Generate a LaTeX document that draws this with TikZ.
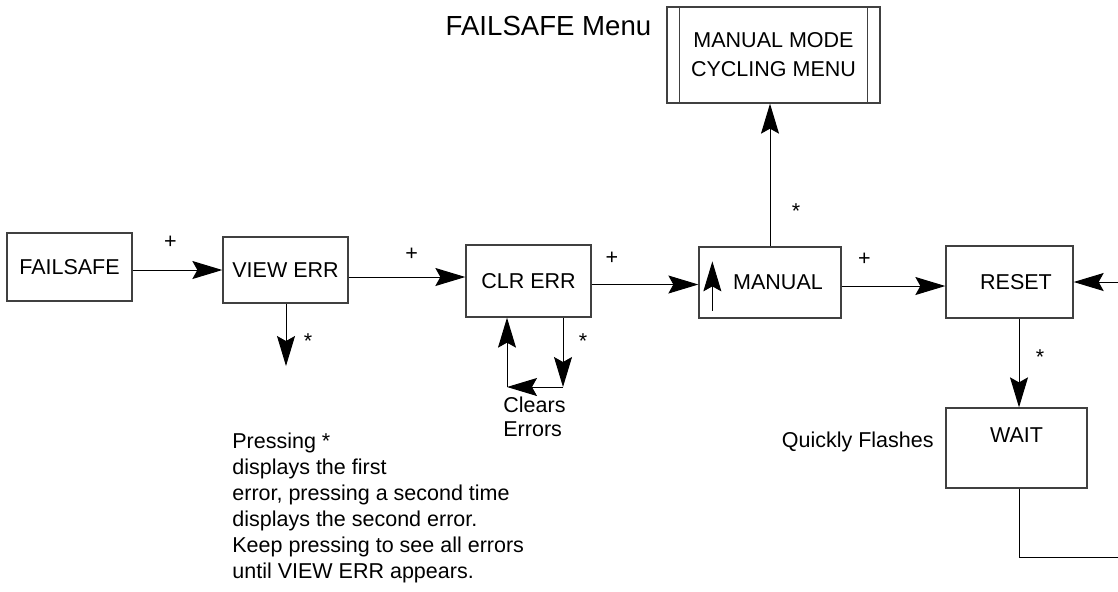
\documentclass[tikz,border=0pt]{standalone}
\usepackage{fontspec}
\setmainfont{Liberation Sans}
\usetikzlibrary{arrows.meta}

\begin{document}
\begin{tikzpicture}[x=0.5pt, y=-0.5pt,
  every node/.style={font=\fontsize{10.75}{13}\selectfont},
  menubox/.style={draw=black!75, line width=0.65pt, inner sep=0pt},
  flow/.style={line width=0.5pt, -{Stealth[length=15pt, width=9pt, inset=2.5pt]}},
  sym/.style={inner sep=0pt},
  note/.style={inner sep=0pt, align=left}]
  \useasboundingbox (0,0) rectangle (1118,591);

  % Menu boxes
  \node[menubox, minimum width=62.5pt, minimum height=34pt] (failsafe) at (69.5,267) {FAILSAFE};
  \node[menubox, minimum width=62.5pt, minimum height=33pt] (viewerr) at (285.5,270) {VIEW ERR};
  \node[menubox, minimum width=62.5pt, minimum height=36pt] (clrerr) at (528.5,281) {CLR ERR};
  \node[menubox, minimum width=71pt, minimum height=35.5pt] (manual) at (770,282.5) {\hspace{8pt}MANUAL};
  \node[menubox, minimum width=63.5pt, minimum height=36pt] (reset) at (1009.5,282) {\hspace{6.5pt}RESET};
  \node[menubox, minimum width=70.5pt, minimum height=40pt,
    label={[anchor=north, yshift=-6.4pt]north:WAIT}] (wait) at (1016.5,448) {};
  \node[menubox, minimum width=106.5pt, minimum height=48pt, align=center] (cycling) at (773.5,55)
    {MANUAL MODE\\[1.5pt]CYCLING MENU};
  \draw[draw=black!75, line width=0.65pt]
    ([xshift=6.5pt]cycling.north west) -- ([xshift=6.5pt]cycling.south west)
    ([xshift=-6.5pt]cycling.north east) -- ([xshift=-6.5pt]cycling.south east);

  % Texts
  \node[font=\fontsize{13.8}{16}\selectfont] (menutitle) at (548.5,26) {FAILSAFE Menu};
  \node[inner sep=0pt, anchor=base east] (flashes) at (934,447) {Quickly Flashes};
  \node[note, anchor=north west, font=\fontsize{10.75}{12}\selectfont] (clears) at (503,397) {Clears\\Errors};
  \node[note, anchor=north west] (pressnote) at (232,433)
    {Pressing *\\displays the first\\error, pressing a second time\\displays the second error.\\Keep pressing to see all errors\\until VIEW ERR appears.};

  % Plus key
  \draw[flow] (viewerr.west -| failsafe.east) -- (viewerr.west)
    node[sym, pos=.42, yshift=14pt] {+};
  \draw[flow] ([yshift=2pt]clrerr.west -| viewerr.east) -- ([yshift=2pt]clrerr.west)
    node[sym, pos=.54, yshift=11.5pt] {+};
  \draw[flow] ([yshift=-1pt]manual.west -| clrerr.east) -- ([yshift=-1pt]manual.west)
    node[sym, pos=.19, yshift=13pt] {+};
  \draw[flow] ([yshift=-2pt]reset.west -| manual.east) -- ([yshift=-2pt]reset.west)
    node[sym, pos=.22, yshift=13.5pt] {+};

  % Star key
  \coordinate (viewerrend) at (286,366);
  \draw[flow] (viewerrend |- viewerr.south) -- (viewerrend)
    node[sym, pos=.52, xshift=11pt, yshift=-2.3pt] {*};
  \coordinate (clrdown) at (563,387);
  \coordinate (clrleft) at (507,387);
  \draw[flow] (clrdown |- clrerr.south) -- (clrdown)
    node[sym, pos=.27, xshift=10pt, yshift=-2.3pt] {*};
  \draw[flow] (clrdown) -- (clrleft);
  \draw[flow] (clrleft) -- (clrleft |- clrerr.south);
  \draw[flow] ([xshift=7pt, yshift=4pt]manual.south west) -- ([xshift=7pt, yshift=-7.5pt]manual.north west);
  \draw[flow] (manual.north) -- (manual.north |- cycling.south)
    node[sym, pos=.28, xshift=13pt, yshift=-2.3pt] {*};
  \draw[flow] ([xshift=1.25pt]wait.north |- reset.south) -- ([xshift=1.25pt]wait.north)
    node[sym, pos=.38, xshift=10.5pt, yshift=-2.3pt] {*};

  % Return from WAIT
  \coordinate (loopcorner) at (1123,557);
  \draw[flow] ([xshift=1.25pt]wait.south) |- (loopcorner) |- (reset.east);
\end{tikzpicture}
\end{document}
